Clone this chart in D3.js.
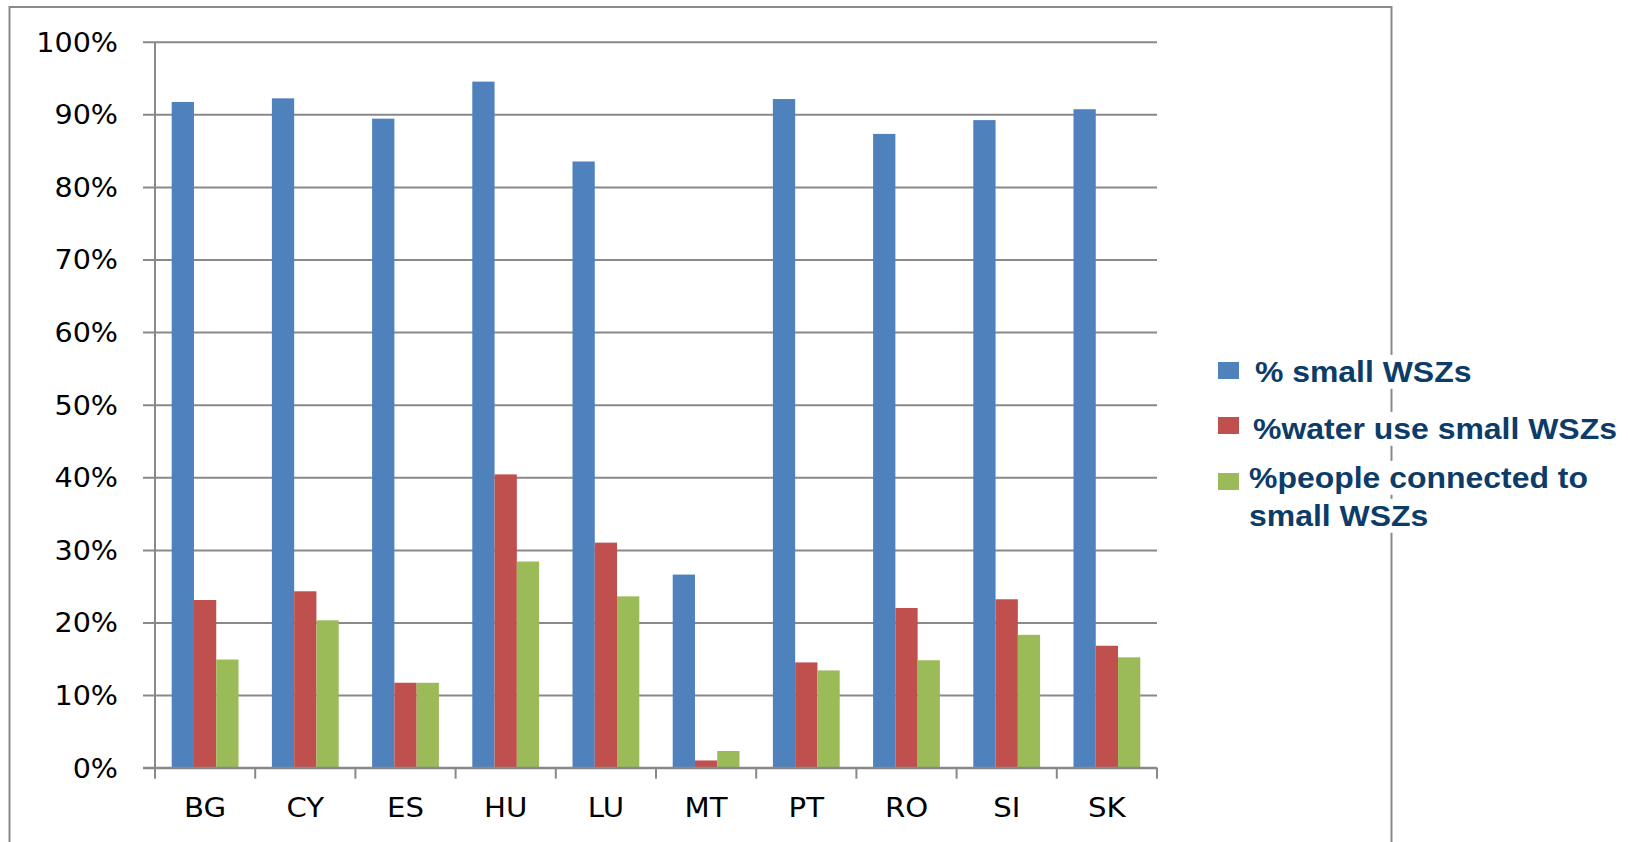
<!DOCTYPE html>
<html>
<head>
<meta charset="utf-8">
<script src="https://cdn.jsdelivr.net/npm/d3@7"></script>
<style>
  body { margin: 0; background: #fff; }
  svg { display: block; }
</style>
</head>
<body>
<div id="chart"></div>
<script>
// data
const countries = ["BG", "CY", "ES", "HU", "LU", "MT", "PT", "RO", "SI", "SK"];
const seriesNames = ["% small WSZs", "%water use small WSZs", "%people connected to small WSZs"];
const smallWSZ   = [0.917, 0.922, 0.894, 0.945, 0.835, 0.266, 0.921, 0.873, 0.892, 0.907];
const waterUse   = [0.231, 0.243, 0.117, 0.404, 0.310, 0.010, 0.145, 0.220, 0.232, 0.168];
const peopleConn = [0.149, 0.203, 0.117, 0.284, 0.236, 0.023, 0.134, 0.148, 0.183, 0.152];
const yTicks = [0, 0.1, 0.2, 0.3, 0.4, 0.5, 0.6, 0.7, 0.8, 0.9, 1.0];
const colors = ["#4f81bd", "#c0504d", "#9bbb59"];

const W = 1628, H = 842;
const gridColor = "#898989";
// the original picture is stretched a little sideways
const stretch = 1.1;

const svg = d3.select("#chart")
  .append("svg")
    .attr("width", W)
    .attr("height", H);

// outer chart frame (bottom runs off the picture)
svg.append("rect")
  .attr("x", 9.5).attr("y", 7)
  .attr("width", 1382).attr("height", 900)
  .attr("fill", "none")
  .attr("stroke", gridColor)
  .attr("stroke-width", 2);

// scales
const x0 = d3.scaleBand()
  .domain(countries)
  .range([155, 1157])
  .padding(0);

const bw = x0.bandwidth();
const barW = bw / 4.5;
const x1 = d3.scaleBand()
  .domain(d3.range(3))
  .range([0.75 * barW, 3.75 * barW]);

const y = d3.scaleLinear()
  .domain([0, 1])
  .range([767.7, 41.7]);

// gridlines + y labels
const yAxis = svg.append("g")
  .attr("transform", "translate(155,0)")
  .call(d3.axisLeft(y).tickValues(yTicks).tickFormat(d3.format(".0%"))
    .tickSizeInner(-(1157 - 155)).tickSizeOuter(0).tickPadding(0));
yAxis.select(".domain").remove();
yAxis.selectAll(".tick line")
  .attr("x1", -12)
  .attr("stroke", gridColor)
  .attr("stroke-width", 2);
yAxis.selectAll(".tick text")
  .attr("x", -37 / stretch)
  .attr("dy", "0.36em")
  .attr("transform", `scale(${stretch},1)`)
  .style("font-family", "'DejaVu Sans', Verdana, sans-serif")
  .style("font-size", "26px")
  .attr("fill", "#000");

// bars
const rows = countries.map((c, i) => ({ c, v: [smallWSZ[i], waterUse[i], peopleConn[i]] }));

svg.append("g")
  .selectAll("g")
  .data(rows)
  .join("g")
    .attr("transform", d => `translate(${x0(d.c)},0)`)
  .selectAll("rect")
  .data(d => d.v.map((v, k) => ({ k, v })))
  .join("rect")
    .attr("x", d => x1(d.k))
    .attr("y", d => y(d.v))
    .attr("width", x1.bandwidth())
    .attr("height", d => y(0) - y(d.v))
    .attr("fill", d => colors[d.k]);

// y axis line
svg.append("line")
  .attr("x1", 155).attr("x2", 155)
  .attr("y1", y(1)).attr("y2", y(0))
  .attr("stroke", gridColor)
  .attr("stroke-width", 2);

// x axis
const xAxis = svg.append("g")
  .attr("transform", `translate(0,${y(0)})`)
  .call(d3.axisBottom(x0).tickSize(0).tickPadding(0));
xAxis.select(".domain")
  .attr("d", `M143,0H1157`)
  .attr("stroke", gridColor)
  .attr("stroke-width", 2);
xAxis.selectAll(".tick text")
  .attr("y", 49)
  .attr("dy", 0)
  .attr("transform", "scale(1.08,1)")
  .style("font-family", "'DejaVu Sans', Verdana, sans-serif")
  .style("font-size", "27px")
  .attr("fill", "#000");

// category boundary ticks
const bounds = countries.map(c => x0(c)).concat([x0.range()[1]]);
svg.append("g")
  .selectAll("line")
  .data(bounds)
  .join("line")
    .attr("x1", d => d).attr("x2", d => d)
    .attr("y1", y(0)).attr("y2", y(0) + 11)
    .attr("stroke", gridColor)
    .attr("stroke-width", 2);

// legend
const legendRows = [
  { k: 0, lines: [" % small WSZs"], sy: 362, tx: 1246, base: [382] },
  { k: 1, lines: ["%water use small WSZs"], sy: 417, tx: 1253, base: [439] },
  { k: 2, lines: ["%people connected to", "small WSZs"], sy: 473, tx: 1249, base: [488, 526] }
];

const legend = svg.append("g");
legendRows.forEach(r => {
  r.lines.forEach((t, j) => {
    const tr = `translate(${r.tx},${r.base[j]}) scale(1.065,1)`;
    const txt = legend.append("text")
      .attr("transform", tr)
      .attr("xml:space", "preserve")
      .style("font-family", "'Liberation Sans', Arial, sans-serif")
      .style("font-weight", "bold")
      .style("font-size", "30px")
      .attr("fill", "#0d3c68")
      .text(t);
    const bb = txt.node().getBBox();
    legend.insert("rect", "text")
      .attr("transform", tr)
      .attr("x", bb.x).attr("y", bb.y)
      .attr("width", bb.width).attr("height", bb.height)
      .attr("fill", "#fff");
  });
  legend.append("rect")
    .attr("x", 1218).attr("y", r.sy)
    .attr("width", 21).attr("height", 17)
    .attr("fill", colors[r.k]);
});
</script>
</body>
</html>
